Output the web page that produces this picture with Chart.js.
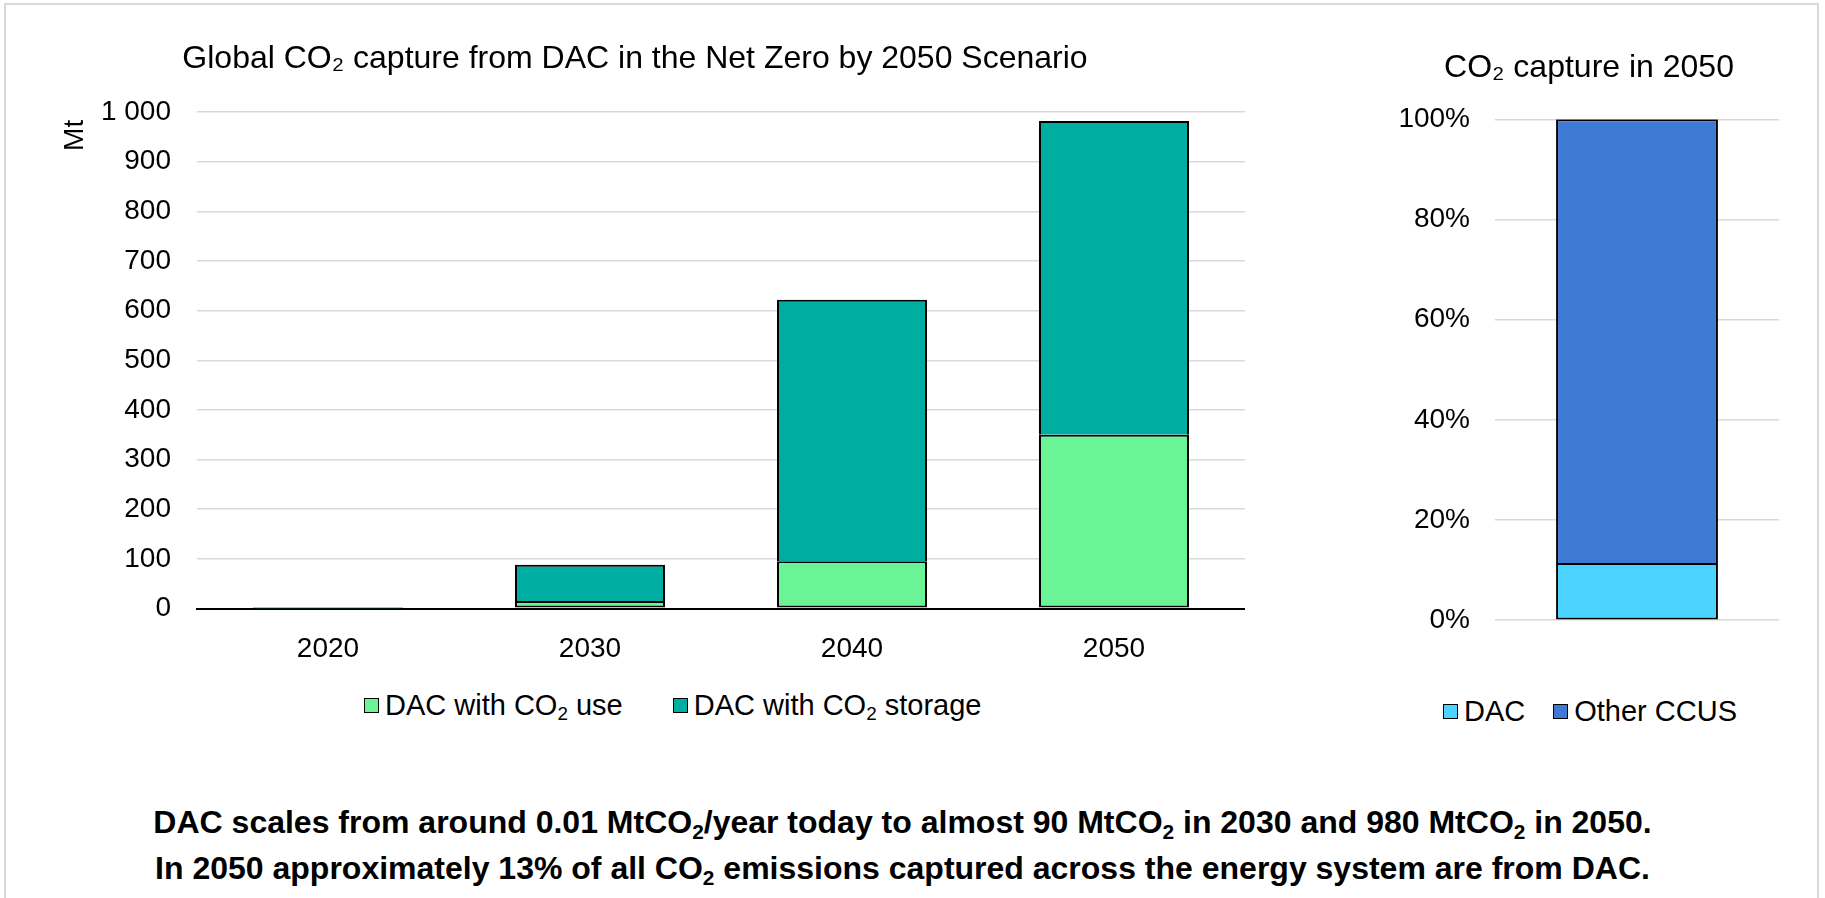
<!DOCTYPE html>
<html>
<head>
<meta charset="utf-8">
<title>Global CO₂ capture from DAC in the Net Zero by 2050 Scenario</title>
<script src="https://cdn.jsdelivr.net/npm/chart.js@4.4.1/dist/chart.umd.min.js"></script>
<style>
  html, body { margin: 0; padding: 0; background: #fff; }
  body {
    width: 1825px; height: 898px; position: relative; overflow: hidden;
    font-family: "Liberation Sans", Arial, Helvetica, sans-serif; color: #000;
  }
  #frame {
    position: absolute; left: 4px; top: 3px; width: 1815px; height: 920px;
    border: 2.5px solid #d9d9d9; box-sizing: border-box;
  }
  canvas { position: absolute; top: 0; }
  #mainChart { left: 0; }
  #shareChart { left: 1380px; }
  .legend {
    position: absolute; display: flex; align-items: center; height: 34px;
    font-size: 29px; line-height: 29px; white-space: nowrap;
  }
  .legend .item { display: flex; align-items: center; }
  .legend .swatch {
    width: 15px; height: 15px; box-sizing: border-box;
    border: 1.5px solid #000; margin-right: 6px;
  }
  #legendMain { left: 364px; top: 688px; }
  #legendMain .item + .item { margin-left: 50px; }
  #legendShare { left: 1443px; top: 694.5px; }
  #legendShare .item + .item { margin-left: 28px; }
  sub { font-size: 65%; vertical-align: -0.28em; line-height: 0; }
  #caption {
    position: absolute; left: 0; width: 1805px; top: 798.5px;
    text-align: center; font-weight: bold; font-size: 32px; line-height: 46px;
  }
</style>
</head>
<body>
<div id="frame"></div>
<canvas id="mainChart" width="1245" height="665"></canvas>
<canvas id="shareChart" width="399" height="662"></canvas>
<div id="legendMain" class="legend"></div>
<div id="legendShare" class="legend"></div>
<div id="caption">
  DAC scales from around 0.01 MtCO<sub>2</sub>/year today to almost 90 MtCO<sub>2</sub> in 2030 and 980 MtCO<sub>2</sub> in 2050.<br>
  In 2050 approximately 13% of all CO<sub>2</sub> emissions captured across the energy system are from DAC.
</div>
<script>
// ---- data: DAC capture by year (Mt CO2) ----
const years = ['2020', '2030', '2040', '2050'];
const dacUse = [0, 15, 95, 350];
const dacStorage = [0.01, 73, 527, 632];
const mtTickLabels = ['0', '100', '200', '300', '400', '500', '600', '700', '800', '900', '1 000'];

// ---- data: share of all CO2 captured in 2050 (%) ----
const shareCategory = ['2050'];
const shareDac = [11.4];
const shareOtherCcus = [88.6];
const shareTickLabels = ['0%', '20%', '40%', '60%', '80%', '100%'];

const FONT = '"Liberation Sans", Arial, Helvetica, sans-serif';
Chart.defaults.font.family = FONT;
Chart.defaults.color = '#000';

const GRID = '#d9d9d9';

// Legend rendered as HTML so the subscript in "CO2" can be typeset.
const htmlLegend = {
  id: 'htmlLegend',
  afterUpdate(chart, args, opts) {
    const box = document.getElementById(opts.containerID);
    box.innerHTML = '';
    const items = chart.options.plugins.legend.labels.generateLabels(chart);
    items.forEach(it => {
      const item = document.createElement('span');
      item.className = 'item';
      const sw = document.createElement('span');
      sw.className = 'swatch';
      sw.style.background = it.fillStyle;
      const tx = document.createElement('span');
      tx.innerHTML = it.text.replace('₂', '<sub>2</sub>');
      item.appendChild(sw);
      item.appendChild(tx);
      box.appendChild(item);
    });
  }
};

// The lower segment (drawn last) carries the 2px dividing line between segments.
const lowerBorder = { top: 2, left: 2, right: 2, bottom: 2 };
const upperBorder = { top: 2, left: 2, right: 2, bottom: 0 };

new Chart(document.getElementById('mainChart'), {
  type: 'bar',
  data: {
    labels: years,
    datasets: [
      {
        label: 'DAC with CO₂ use',
        data: dacUse,
        backgroundColor: '#69f595',
        borderColor: '#000',
        borderWidth: lowerBorder,
        borderSkipped: false
      },
      {
        label: 'DAC with CO₂ storage',
        data: dacStorage,
        backgroundColor: '#00ada1',
        borderColor: '#000',
        borderWidth: upperBorder,
        borderSkipped: false
      }
    ]
  },
  options: {
    responsive: false,
    animation: false,
    layout: { padding: { left: 25, right: 0, top: 0, bottom: 0 } },
    datasets: { bar: { categoryPercentage: 1, barPercentage: 0.5725 } },
    plugins: {
      legend: { display: false },
      tooltip: { enabled: false },
      htmlLegend: { containerID: 'legendMain' },
      title: {
        display: true,
        text: 'Global CO₂ capture from DAC in the Net Zero by 2050 Scenario',
        font: { size: 32, weight: 'normal' },
        color: '#000',
        padding: { top: 39.5, bottom: 34.1 }
      }
    },
    scales: {
      x: {
        stacked: true,
        grid: { display: false },
        border: { display: true, color: '#000', width: 2 },
        ticks: { font: { size: 28 }, color: '#000', padding: 16 },
        afterFit(scale) { scale.height = 56.5; }
      },
      y: {
        stacked: true,
        min: 0,
        max: 1000,
        border: { display: false },
        grid: {
          drawTicks: false,
          color: c => (c.tick && c.tick.value === 0 ? '#000' : GRID),
          lineWidth: c => (c.tick && c.tick.value === 0 ? 2 : 1.5)
        },
        ticks: {
          stepSize: 100,
          padding: 26,
          font: { size: 28 },
          color: '#000',
          callback: v => mtTickLabels[Math.round(v / 100)]
        },
        title: {
          display: true,
          text: 'Mt ',
          align: 'end',
          font: { size: 28 },
          color: '#000',
          padding: { top: 33.2, bottom: 0 }
        },
        afterFit(scale) { scale.width = 172; }
      }
    }
  },
  plugins: [htmlLegend]
});

new Chart(document.getElementById('shareChart'), {
  type: 'bar',
  data: {
    labels: shareCategory,
    datasets: [
      {
        label: 'DAC',
        data: shareDac,
        backgroundColor: '#4ad4ff',
        borderColor: '#000',
        borderWidth: lowerBorder,
        borderSkipped: false
      },
      {
        label: 'Other CCUS',
        data: shareOtherCcus,
        backgroundColor: '#3e79d3',
        borderColor: '#000',
        borderWidth: upperBorder,
        borderSkipped: false
      }
    ]
  },
  options: {
    responsive: false,
    animation: false,
    layout: { padding: { left: 19, right: 0, top: 0, bottom: 0 } },
    datasets: { bar: { categoryPercentage: 1, barPercentage: 0.57 } },
    plugins: {
      legend: { display: false },
      tooltip: { enabled: false },
      htmlLegend: { containerID: 'legendShare' },
      title: {
        display: true,
        text: 'CO₂ capture in 2050',
        font: { size: 32, weight: 'normal' },
        color: '#000',
        padding: { top: 48.5, bottom: 32.4 }
      }
    },
    scales: {
      x: { stacked: true, display: false },
      y: {
        stacked: true,
        min: 0,
        max: 100,
        border: { display: false },
        grid: { drawTicks: false, color: GRID, lineWidth: 1.5 },
        ticks: {
          stepSize: 20,
          padding: 25,
          font: { size: 28 },
          color: '#000',
          callback: v => shareTickLabels[Math.round(v / 20)]
        },
        afterFit(scale) { scale.width = 96; }
      }
    }
  },
  plugins: [htmlLegend]
});
</script>
</body>
</html>
